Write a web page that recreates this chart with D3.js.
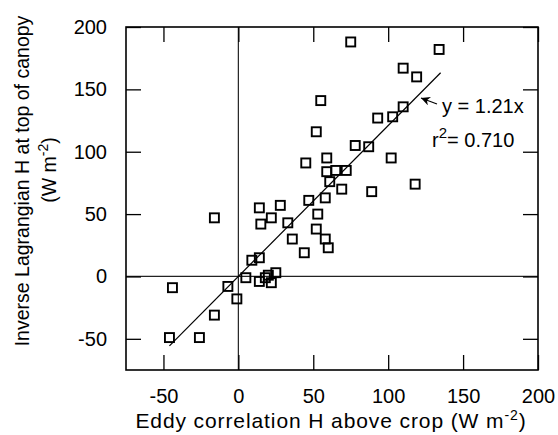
<!DOCTYPE html>
<html><head><meta charset="utf-8">
<script src="https://cdn.jsdelivr.net/npm/d3@7"></script>
<style>body{margin:0;background:#fff}svg{display:block}text{font-family:"Liberation Sans",Arial,sans-serif;fill:#000}</style>
</head><body><svg id="c" width="558" height="435"></svg>
<script>
const ehValues = [-46,-26,-44,-16,-16,-7,-1,5,9,14,14,14,15,20,18,22,25,22,28,33,36,44,47,52,53,58,58,60,45,52,55,59,59,61,65,72,69,78,87,89,93,103,102,110,110,119,134,75,118];
const ilValues = [-49,-49,-9,-31,47,-8,-18,-1,13,15,-4,55,42,1,-1,-5,3,47,57,43,30,19,61,38,50,63,30,23,91,116,141,95,84,76,85,85,70,105,104,68,127,128,95,136,167,160,182,188,74];
const xTicks = [-50,0,50,100,150,200];
const yTicks = [-50,0,50,100,150,200];
const slope = 1.21;
const fitRange = [-46,135];

const svg = d3.select("#c");
const L=126,R=538,T=27,B=370;
const x = d3.scaleLinear().domain([-75,200]).range([L,R]);
const y = d3.scaleLinear().domain([-75,200]).range([B,T]);
const g = svg.append("g");

// zero lines
g.append("line").attr("x1",x(0)).attr("x2",x(0)).attr("y1",T).attr("y2",B).attr("stroke","#222").attr("stroke-width",1.2);
g.append("line").attr("x1",L).attr("x2",R).attr("y1",y(0)).attr("y2",y(0)).attr("stroke","#222").attr("stroke-width",1.2);

// axes with inward ticks
const tk=15;
const fmt = d => String(d);
const bx = d3.axisBottom(x).tickValues(xTicks).tickSize(-tk).tickPadding(tk+4).tickFormat(fmt);
const ly = d3.axisLeft(y).tickValues(yTicks).tickSize(-tk).tickPadding(tk+4).tickFormat(fmt);
const tx = d3.axisTop(x).tickValues(xTicks).tickSize(-tk).tickFormat("");
const ry = d3.axisRight(y).tickValues(yTicks).tickSize(-tk).tickFormat("");
function style(sel){sel.select(".domain").remove();sel.selectAll(".tick line").attr("stroke","#000").attr("stroke-width",1.3);sel.selectAll("text").style("font-size","20px").style("font-family","'Liberation Sans',Arial,sans-serif");}
g.append("g").attr("transform",`translate(0,${B})`).call(bx).call(style);
g.append("g").attr("transform",`translate(${L},0)`).call(ly).call(style);
g.append("g").attr("transform",`translate(0,${T})`).call(tx).call(style);
g.append("g").attr("transform",`translate(${R},0)`).call(ry).call(style);
// frame
g.append("rect").attr("x",L).attr("y",T).attr("width",R-L).attr("height",B-T).attr("fill","none").attr("stroke","#000").attr("stroke-width",1.6);

// fit line
g.append("line").attr("x1",x(fitRange[0])).attr("y1",y(slope*fitRange[0])).attr("x2",x(fitRange[1])).attr("y2",y(slope*fitRange[1])).attr("stroke","#000").attr("stroke-width",1.2);

// points
const pts = ehValues.map((v,i)=>[v,ilValues[i]]);
const s=9;
g.selectAll("rect.p").data(pts).join("rect").attr("class","p")
 .attr("x",d=>x(d[0])-s/2).attr("y",d=>y(d[1])-s/2).attr("width",s).attr("height",s)
 .attr("fill","none").attr("stroke","#000").attr("stroke-width",1.9);

// annotation
svg.append("defs").append("marker").attr("id","ah").attr("viewBox","0 0 10 10").attr("refX",10).attr("refY",5)
 .attr("markerWidth",9).attr("markerHeight",9).attr("markerUnits","userSpaceOnUse").attr("orient","auto")
 .append("path").attr("d","M0,0L10,5L0,10L3,5Z").attr("fill","#000");
g.append("line").attr("x1",437).attr("y1",104).attr("x2",421).attr("y2",98).attr("stroke","#000").attr("stroke-width",1.2).attr("marker-end","url(#ah)");
g.append("text").attr("x",442).attr("y",113).style("font-size","20px").text("y = 1.21x");
const r2=g.append("text").attr("x",432).attr("y",147).style("font-size","20px");
r2.append("tspan").text("r");
r2.append("tspan").attr("dy",-9).style("font-size","15px").text("2");
r2.append("tspan").attr("dy",9).text("= 0.710");

// axis titles
const xt=g.append("text").attr("x",331).attr("y",428).attr("text-anchor","middle").style("font-size","21px").style("letter-spacing","0.9px");
xt.append("tspan").text("Eddy correlation H above crop (W m");
xt.append("tspan").attr("dy",-8).style("font-size","14px").text("-2");
xt.append("tspan").attr("dy",8).text(")");
const yt=g.append("g").attr("transform","translate(29,181) rotate(-90)");
yt.append("text").attr("text-anchor","middle").style("font-size","19.5px").text("Inverse Lagrangian H at top of canopy");
const yt2=yt.append("g").attr("transform","translate(11,0)").append("text").attr("y",27).attr("text-anchor","middle").style("font-size","19.5px");
yt2.append("tspan").text("(W m");
yt2.append("tspan").attr("dy",-8).style("font-size","14px").text("-2");
yt2.append("tspan").attr("dy",8).text(")");
</script></body></html>
